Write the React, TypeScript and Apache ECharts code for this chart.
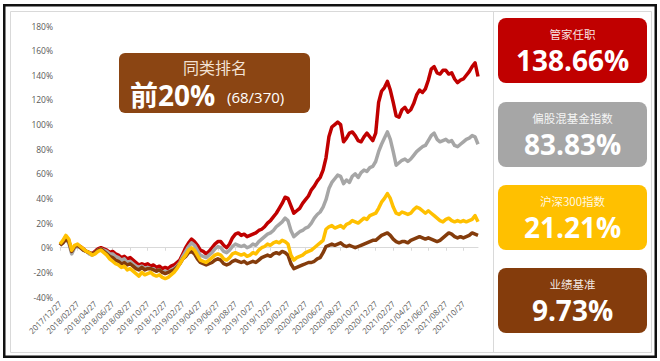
import React, { useEffect, useRef } from "react";
import * as echarts from "echarts";

// 3 points per month, starting 2017/12/27 (labels every 2 months)
const DAYS = ["27", "07", "17"];
const categories: string[] = [];
for (let k = 0; k < 144; k++) {
  const m = Math.floor((k + 2) / 3); // months after 2017/12
  const total = 2017 * 12 + 11 + m;
  const y = Math.floor(total / 12);
  const mo = (total % 12) + 1;
  categories.push(`${y}/${String(mo).padStart(2, "0")}/${DAYS[k % 3]}`);
}

const seriesNames = ["管家任职", "偏股混基金指数", "沪深300指数", "业绩基准"];
const seriesColors = ["#C00000", "#A6A6A6", "#FFC000", "#843C0C"];
const finalValues = ["138.66%", "83.83%", "21.21%", "9.73%"];

const manager = [
  2, 5, 9, 6, -3, 1, 2, 1, -1, -3, -4, -5, -3, -1, 0, -1, -2, -4, -3, -5,
  -6, -8, -7, -9, -8, -10, -12, -14, -13, -14, -13, -15, -14, -16, -15, -17, -16, -17, -15, -14,
  -12, -10, -5, 0, 4, 7, 5, 2, -2, -3, -5, -3, 0, 3, 5, 5, 2, 0, 3, 8,
  11, 12, 10, 11, 9, 10, 11, 12, 14, 15, 17, 20, 22, 25, 28, 32, 36, 41, 40, 34,
  28, 30, 32, 36, 39, 42, 47, 50, 54, 57, 63, 73, 90, 98, 100, 102, 100, 86, 89, 93,
  94, 91, 87, 86, 90, 93, 90, 87, 93, 118, 127, 130, 135, 128, 118, 107, 106, 112, 114, 110,
  112, 117, 124, 128, 126, 129, 136, 145, 147, 142, 141, 144, 144, 141, 142, 137, 134, 136, 137, 140,
  143, 147, 150, 139,
];

const fundIndex = [
  2, 4, 7, 4, -5, 0, 1, 0, -2, -3, -5, -6, -4, -2, -1, -2, -3, -5, -5, -7,
  -8, -10, -9, -12, -11, -13, -15, -16, -15, -17, -16, -17, -17, -19, -18, -20, -19, -20, -18, -17,
  -15, -12, -7, -3, 1, 4, 2, -2, -6, -7, -8, -6, -4, -1, 1, 0, -3, -4, -2, 1,
  3, 2, 1, 2, 0, 1, 3, 2, 5, 7, 9, 11, 12, 14, 17, 19, 21, 24, 22, 14,
  9, 11, 13, 14, 16, 17, 20, 24, 27, 29, 33, 39, 48, 53, 56, 59, 58, 52, 55, 53,
  58, 60, 57, 61, 63, 62, 65, 66, 70, 78, 84, 89, 94, 88, 78, 67, 69, 71, 72, 70,
  72, 75, 78, 80, 82, 83, 87, 91, 93, 88, 86, 87, 88, 86, 87, 83, 82, 84, 86, 88,
  89, 91, 90, 84,
];

const csi300 = [
  3, 6, 10, 7, -2, 2, 3, 1, -1, -3, -4, -6, -5, -3, -2, -4, -6, -9, -11, -13,
  -14, -16, -15, -18, -17, -19, -21, -23, -20, -22, -21, -20, -22, -23, -22, -24, -25, -24, -22, -20,
  -17, -13, -9, -6, -2, 0, -2, -6, -10, -11, -12, -10, -8, -6, -5, -6, -9, -10, -8, -5,
  -4, -5, -6, -5, -7, -6, -4, -5, -2, 0, 1, 3, 2, 4, 5, 4, 6, 5, 3, -6,
  -10, -8, -7, -6, -4, -3, -2, 0, 2, 4, 6, 15, 17, 18, 16, 17, 18, 16, 19, 20,
  22, 21, 20, 22, 24, 23, 26, 27, 28, 32, 37, 40, 44, 40, 33, 28, 27, 29, 28, 27,
  28, 31, 33, 32, 30, 28, 30, 28, 26, 24, 22, 21, 23, 24, 22, 21, 22, 21, 22, 21,
  22, 23, 26, 21,
];

const benchmark = [
  2, 4, 7, 5, -3, 1, 2, 0, -2, -3, -4, -5, -4, -2, -1, -3, -5, -7, -8, -10,
  -11, -13, -12, -14, -13, -15, -17, -18, -16, -18, -17, -17, -18, -19, -18, -20, -21, -20, -19, -18,
  -16, -13, -9, -7, -4, -3, -5, -9, -12, -13, -14, -13, -12, -10, -9, -10, -13, -14, -13, -11,
  -10, -11, -12, -11, -13, -12, -11, -12, -10, -8, -7, -6, -7, -5, -4, -5, -3, -4, -6, -13,
  -17, -16, -15, -14, -13, -12, -12, -11, -9, -8, -4, 1, 2, 3, 2, 3, 4, 2, 1, 2,
  1, 0, 1, 2, 3, 4, 5, 6, 6, 8, 10, 11, 12, 10, 7, 5, 4, 5, 5, 4,
  6, 7, 8, 9, 8, 7, 8, 7, 6, 5, 6, 8, 10, 12, 11, 9, 8, 9, 8, 9,
  10, 12, 11, 10,
];

const yTicks = { min: -40, max: 180, interval: 20 };

const rankTitle = "同类排名";
const rankMain = "前20%";
const rankDetail = "(68/370)";

const FONT = "'Open Sans', 'Noto Sans CJK SC', sans-serif";
const CJK = "'Noto Sans CJK SC', 'Open Sans', sans-serif";

export default function App() {
  const ref = useRef<HTMLDivElement>(null);
  useEffect(() => {
    if (!ref.current) return;
    const chart = echarts.init(ref.current, undefined, { renderer: "svg" });
    const dataSets = [manager, fundIndex, benchmark, csi300];
    const dataNames = [seriesNames[0], seriesNames[1], seriesNames[3], seriesNames[2]];
    const dataColors = [seriesColors[0], seriesColors[1], seriesColors[3], seriesColors[2]];

    const boxTops = [18, 102, 185, 268];
    const boxes: any[] = [];
    boxTops.forEach((top, i) => {
      boxes.push({
        type: "rect",
        shape: { x: 498, y: top, width: 149, height: 65, r: 8 },
        style: { fill: seriesColors[i] },
        z: 10,
      });
      boxes.push({
        type: "text",
        x: 572.5,
        y: top + 16,
        style: {
          text: seriesNames[i],
          fill: "rgba(255,255,255,0.9)",
          fontSize: 11.5,
          fontFamily: CJK,
          align: "center",
          verticalAlign: "middle",
          lineHeight: 13,
        },
        z: 11,
      });
      boxes.push({
        type: "text",
        x: 572.5,
        y: top + 42,
        style: {
          text: finalValues[i],
          fill: "#FFFFFF",
          fontSize: 28,
          fontWeight: "bold",
          fontFamily: FONT,
          align: "center",
          verticalAlign: "middle",
          lineHeight: 30,
        },
        z: 11,
      });
    });

    chart.setOption({
      animation: false,
      backgroundColor: "#FFFFFF",
      grid: { left: 60, right: 182, top: 26, bottom: 64, containLabel: false },
      xAxis: [
        {
          type: "category",
          data: categories,
          boundaryGap: false,
          axisLine: { onZero: true, lineStyle: { color: "#D9D9D9", width: 1 } },
          axisTick: { show: true, interval: 5, length: 3, lineStyle: { color: "#D9D9D9" } },
          axisLabel: { show: false },
          splitLine: { show: false },
        },
        {
          type: "category",
          data: categories,
          boundaryGap: false,
          position: "bottom",
          axisLine: { show: false, onZero: false },
          axisTick: { show: false },
          axisLabel: {
            interval: 5,
            rotate: 45,
            fontSize: 8,
            color: "#595959",
            fontFamily: FONT,
            margin: 5,
          },
          splitLine: { show: false },
        },
      ],
      yAxis: {
        type: "value",
        min: yTicks.min,
        max: yTicks.max,
        interval: yTicks.interval,
        splitLine: { show: false },
        axisLine: { show: false },
        axisTick: { show: false },
        axisLabel: {
          formatter: "{value}%",
          fontSize: 8.5,
          color: "#595959",
          fontFamily: FONT,
          margin: 7,
        },
      },
      series: dataSets.map((d, i) => ({
        type: "line",
        name: dataNames[i],
        data: d,
        xAxisIndex: 0,
        showSymbol: false,
        symbol: "none",
        lineStyle: { color: dataColors[i], width: 3.5, join: "round" },
        itemStyle: { color: dataColors[i] },
        z: 2 + i,
      })),
      graphic: [
        {
          type: "rect",
          shape: { x: 4.25, y: 5.25, width: 651.5, height: 351.5 },
          style: { fill: "none", stroke: "#111111", lineWidth: 2.5 },
          z: 20,
        },
        {
          type: "rect",
          shape: { x: 10.5, y: 11.5, width: 641, height: 341 },
          style: { fill: "none", stroke: "#D9D9D9", lineWidth: 1 },
          z: 1,
        },
        {
          type: "line",
          shape: { x1: 493.5, y1: 11.5, x2: 493.5, y2: 352.5 },
          style: { stroke: "#D9D9D9", lineWidth: 1 },
          z: 1,
        },
        {
          type: "rect",
          shape: { x: 119, y: 53, width: 191, height: 60, r: 6 },
          style: { fill: "#8B4513" },
          z: 10,
        },
        {
          type: "text",
          x: 215,
          y: 67,
          style: {
            text: rankTitle,
            fill: "#F3E2D4",
            fontSize: 16,
            fontFamily: CJK,
            align: "center",
            verticalAlign: "middle",
            lineHeight: 17,
          },
          z: 11,
        },
        {
          type: "text",
          x: 130,
          y: 95,
          style: {
            text: rankMain,
            fill: "#FFFFFF",
            fontSize: 28,
            fontWeight: "bold",
            fontFamily: FONT,
            align: "left",
            verticalAlign: "middle",
            lineHeight: 28,
          },
          z: 11,
        },
        {
          type: "text",
          x: 227,
          y: 97,
          style: {
            text: rankDetail,
            fill: "#FFFFFF",
            fontSize: 15,
            fontFamily: FONT,
            align: "left",
            verticalAlign: "middle",
            lineHeight: 16,
          },
          z: 11,
        },
        ...boxes,
      ],
    });
    return () => chart.dispose();
  }, []);
  return (
    <div
      ref={ref}
      style={{ position: "fixed", left: 0, top: 0, width: 660, height: 361, background: "#fff" }}
    />
  );
}
